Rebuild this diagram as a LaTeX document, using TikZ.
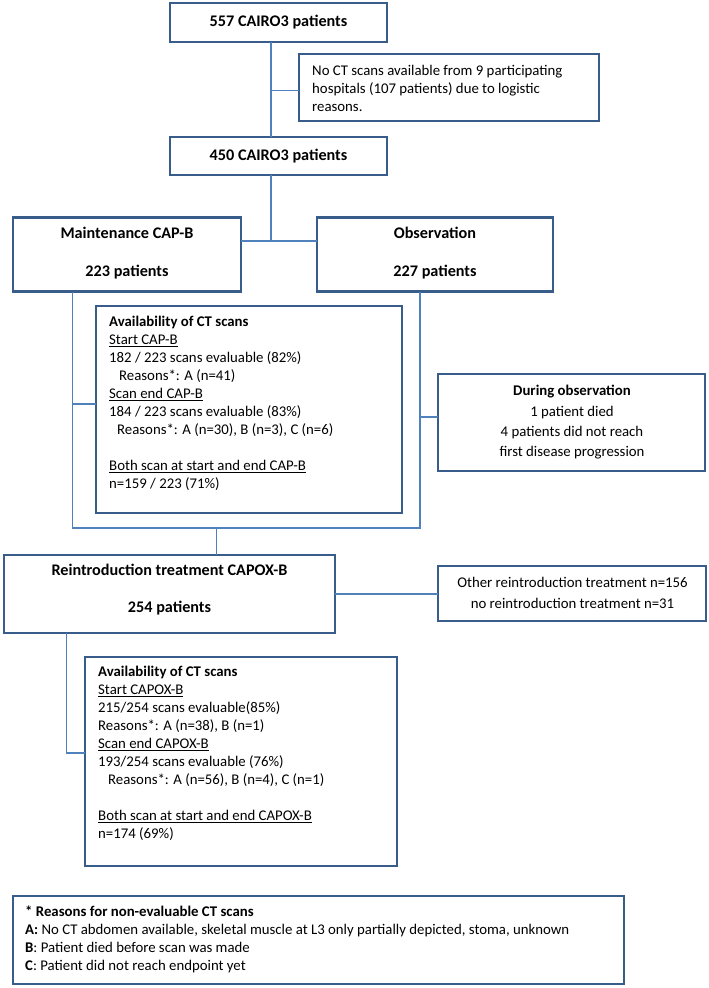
\documentclass[tikz,border=0pt]{standalone}
\usepackage{fontspec}
\setmainfont{Carlito}
\usetikzlibrary{calc}
\definecolor{boxblue}{HTML}{385D8A}
\definecolor{linkblue}{HTML}{4F81BD}
\newcommand\myul[1]{\setbox0=\hbox{#1}\rlap{\rule[-2pt]{\wd0}{0.8pt}}\box0}
\begin{document}
\begin{tikzpicture}[x=1pt,y=-1pt,
  box/.style={draw=boxblue, line width=2.6pt, fill=white, inner sep=0pt, outer sep=0pt, rectangle},
  link/.style={draw=linkblue, line width=1.1pt},
  body/.style={font=\fontsize{14.8}{18}\selectfont, inner sep=0pt, align=left},
  bodyc/.style={font=\fontsize{14.8}{20.3}\selectfont, inner sep=0pt, align=center},
  bodyo/.style={font=\fontsize{14.8}{21}\selectfont, inner sep=0pt, align=center},
  title/.style={font=\fontsize{16.2}{19.5}\selectfont\bfseries, inner sep=0pt},
]
\useasboundingbox (0,0) rectangle (709,988);

% boxes
\node[box, minimum width=217pt, minimum height=39pt] (b557) at (278.5,22.5) {};
\node[box, minimum width=300pt, minimum height=67pt] (noct) at (449,87.5) {};
\node[box, minimum width=217pt, minimum height=38pt] (b450) at (278.5,156) {};
\node[box, minimum width=228pt, minimum height=74pt] (maint) at (127,254.5) {};
\node[box, minimum width=236pt, minimum height=74pt] (obs) at (435,254.5) {};
\node[box, minimum width=306pt, minimum height=207pt] (av1) at (249,409.5) {};
\node[box, minimum width=267pt, minimum height=97pt] (dur) at (571.5,422.5) {};
\node[box, minimum width=331pt, minimum height=78pt] (reint) at (169.5,594) {};
\node[box, minimum width=268pt, minimum height=55pt] (other) at (572,593.5) {};
\node[box, minimum width=312pt, minimum height=209pt] (av2) at (241,761.5) {};
\node[box, minimum width=611pt, minimum height=88pt] (foot) at (318.5,940) {};

% connectors
\coordinate (trunk) at (271,0);
\draw[link] (b557.south -| trunk) -- (b450.north -| trunk);
\coordinate (j0) at (271,90.5);
\draw[link] (j0) -- (j0 -| noct.west);
\coordinate (j1) at (271,241);
\draw[link] (b450.south -| j1) -- (j1);
\draw[link] (j1 -| maint.east) -- (j1 -| obs.west);
\coordinate (lm) at (72.5,528);
\coordinate (rm) at (420,528);
\draw[link] (maint.south -| lm) -- (lm) -- (rm) -- (obs.south -| rm);
\coordinate (ja) at (72.5,404);
\draw[link] (ja) -- (ja -| av1.west);
\coordinate (jd) at (420,417);
\draw[link] (jd) -- (jd -| dur.west);
\coordinate (jr) at (216.7,528);
\draw[link] (jr) -- (reint.north -| jr);
\draw[link] (reint.east) -- (reint.east -| other.west);
\coordinate (lr) at (66.7,753);
\draw[link] (reint.south -| lr) -- (lr) -- (lr -| av2.west);

% texts
\node[title] (t557) at (b557) {557 CAIRO3 patients};
\node[body, anchor=north west] (tnoct) at (312,63) {\strut No CT scans available from 9 participating\\hospitals (107 patients) due to logistic\\reasons.};
\node[title] (t450) at (b450) {450 CAIRO3 patients};
\node[title, anchor=base] (tm1) at (127,238.8) {Maintenance CAP-B};
\node[title, anchor=base] (tm2) at (127,276.8) {223 patients};
\node[title, anchor=base] (to1) at (435,238.8) {Observation};
\node[title, anchor=base] (to2) at (435,276.8) {227 patients};
\node[body, anchor=north west] (tav1) at (109,314) {\strut\textbf{Availability of CT scans}\\
\myul{Start CAP-B}\\
182 / 223 scans evaluable (82\%)\\
\hspace*{10pt}Reasons*: A (n=41)\\
\myul{Scan end CAP-B}\\
184 / 223 scans evaluable (83\%)\\
\hspace*{8pt}Reasons*: A (n=30), B (n=3), C (n=6)\\
\strut\\
\myul{Both scan at start and end CAP-B}\\
n=159 / 223 (71\%)};
\node[bodyc, anchor=north] (tdur) at (572,381.3) {\strut\textbf{During observation}\\1 patient died\\4 patients did not reach\\first disease progression};
\node[title, anchor=base] (tr1) at (169.5,575.5) {Reintroduction treatment CAPOX-B};
\node[title, anchor=base] (tr2) at (169.5,612) {254 patients};
\node[bodyo, anchor=north] (toth) at (572.5,572.8) {\strut Other reintroduction treatment n=156\\no reintroduction treatment n=31};
\node[body, anchor=north west] (tav2) at (98,664) {\strut\textbf{Availability of CT scans}\\
\myul{Start CAPOX-B}\\
215/254 scans evaluable(85\%)\\
Reasons*: A (n=38), B (n=1)\\
\myul{Scan end CAPOX-B}\\
193/254 scans evaluable (76\%)\\
\hspace*{10pt}Reasons*: A (n=56), B (n=4), C (n=1)\\
\strut\\
\myul{Both scan at start and end CAPOX-B}\\
n=174 (69\%)};
\node[body, anchor=north west] (tfoot) at (25,904) {\strut\textbf{* Reasons for non-evaluable CT scans}\\
\textbf{A:} No CT abdomen available, skeletal muscle at L3 only partially depicted, stoma, unknown\\
\textbf{B}: Patient died before scan was made\\
\textbf{C}: Patient did not reach endpoint yet};
\end{tikzpicture}
\end{document}
